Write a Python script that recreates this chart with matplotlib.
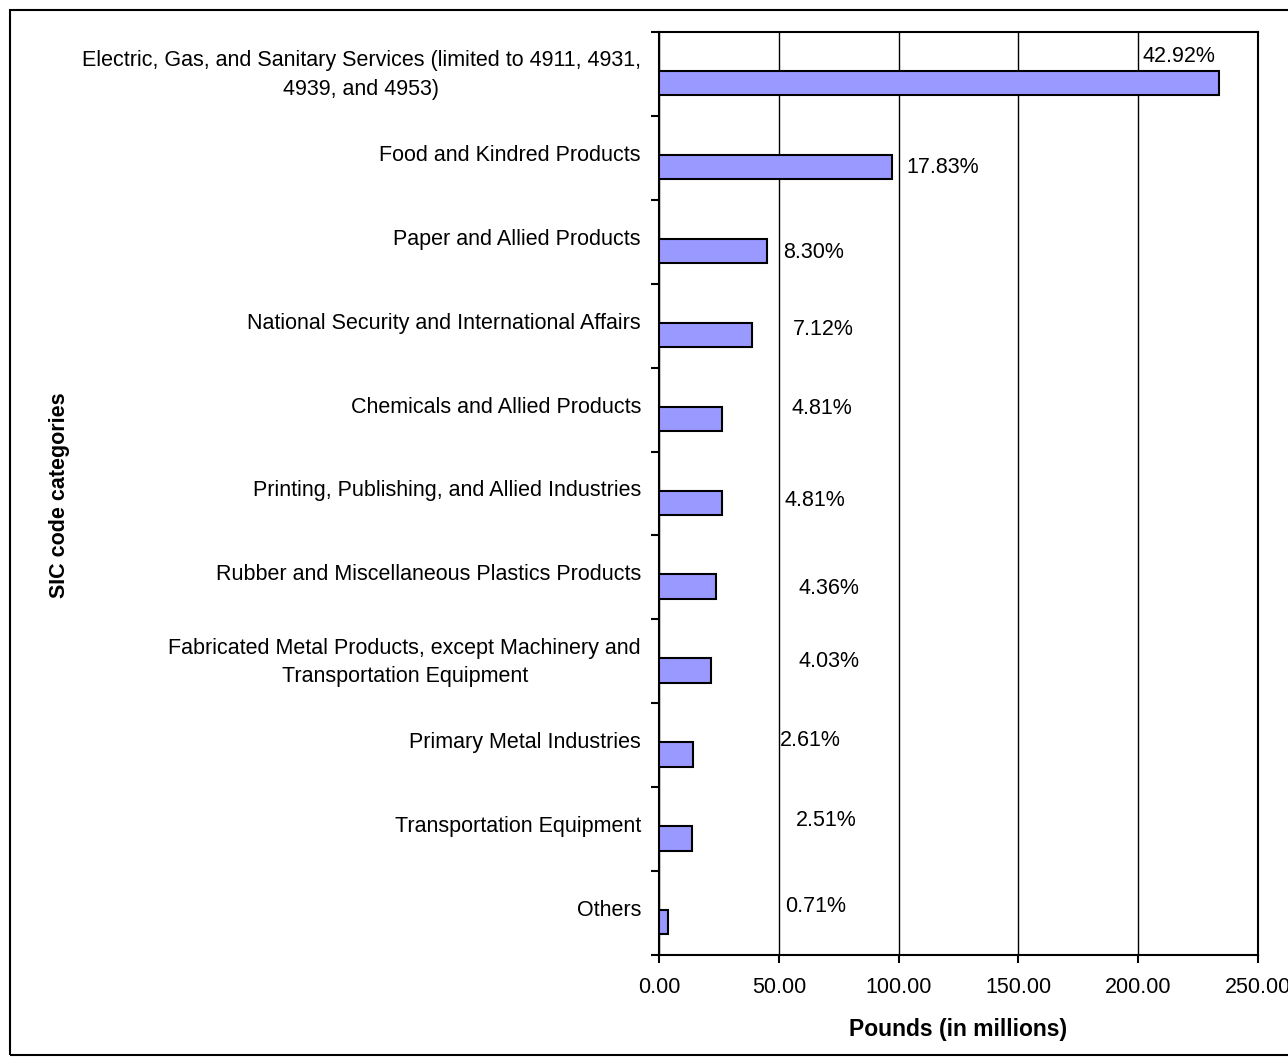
import numpy as np
import matplotlib
matplotlib.use('Agg')
import matplotlib.pyplot as plt
from matplotlib.patches import Rectangle

plt.rcParams['font.family'] = ['Liberation Sans', 'DejaVu Sans']

categories = [
    'Electric, Gas, and Sanitary Services (limited to 4911, 4931,\n4939, and 4953)',
    'Food and Kindred Products',
    'Paper and Allied Products',
    'National Security and International Affairs',
    'Chemicals and Allied Products',
    'Printing, Publishing, and Allied Industries',
    'Rubber and Miscellaneous Plastics Products',
    'Fabricated Metal Products, except Machinery and\nTransportation Equipment',
    'Primary Metal Industries',
    'Transportation Equipment',
    'Others',
]
pounds = [233.7, 97.1, 45.2, 38.8, 26.2, 26.2, 23.7, 21.9, 14.2, 13.7, 3.9]
pct_labels = ['42.92%', '17.83%', '8.30%', '7.12%', '4.81%', '4.81%',
              '4.36%', '4.03%', '2.61%', '2.51%', '0.71%']
x_ticks = [0, 50, 100, 150, 200, 250]

# where each percent label sits (x in pounds, y in category bands)
label_pos = [(202.0, 0.29), (103.1, 1.62), (51.7, 2.63), (55.9, 3.55),
             (55.5, 4.49), (52.2, 5.58), (58.4, 6.63), (58.4, 7.50),
             (50.5, 8.44), (57.2, 9.40), (52.6, 10.42)]

fig = plt.figure(figsize=(12.88, 10.63), dpi=100)
ax = fig.add_axes([659/1288, 1 - 955/1063, (1258 - 659)/1288, (955 - 32)/1063])

n = len(categories)
centers = np.arange(n) + 0.5
ax.barh(centers + 0.11, pounds, height=0.29, color='#9999FF',
        edgecolor='black', linewidth=1.5, zorder=3)

for txt, (x, y) in zip(pct_labels, label_pos):
    ax.text(x, y, txt, fontsize=15.5, ha='left', va='center', zorder=4)

ax.set_xlim(0, 250)
ax.set_ylim(n, 0)
ax.set_xticks(x_ticks)
ax.set_xticklabels([f'{v:.2f}' for v in x_ticks], fontsize=15.5)
ax.tick_params(axis='x', length=6, width=1.5, pad=10)
ax.xaxis.grid(True, color='black', linewidth=1, zorder=0)

ax.set_yticks(np.arange(n + 1))
ax.set_yticklabels([])
ax.tick_params(axis='y', which='major', length=6, width=1.5)
ax.set_yticks(centers - 0.06, minor=True)
ax.set_yticklabels(categories, minor=True, fontsize=15.5, multialignment='center', linespacing=1.45)
ax.tick_params(axis='y', which='minor', length=0, pad=13)

for s in ax.spines.values():
    s.set_linewidth(1.5)

ax.set_xlabel('Pounds (in millions)', fontsize=16.5, fontweight='bold', labelpad=14)
fig.text(60/1288, 1 - 495/1063, 'SIC code categories', rotation=90,
         fontsize=15.5, fontweight='bold', ha='center', va='center')

fig.patches.append(Rectangle((10/1288, 8/1063), 1.05, 1 - 18/1063,
                             transform=fig.transFigure, fill=False,
                             edgecolor='black', linewidth=1.5))

fig.savefig('out.png', dpi=100)
